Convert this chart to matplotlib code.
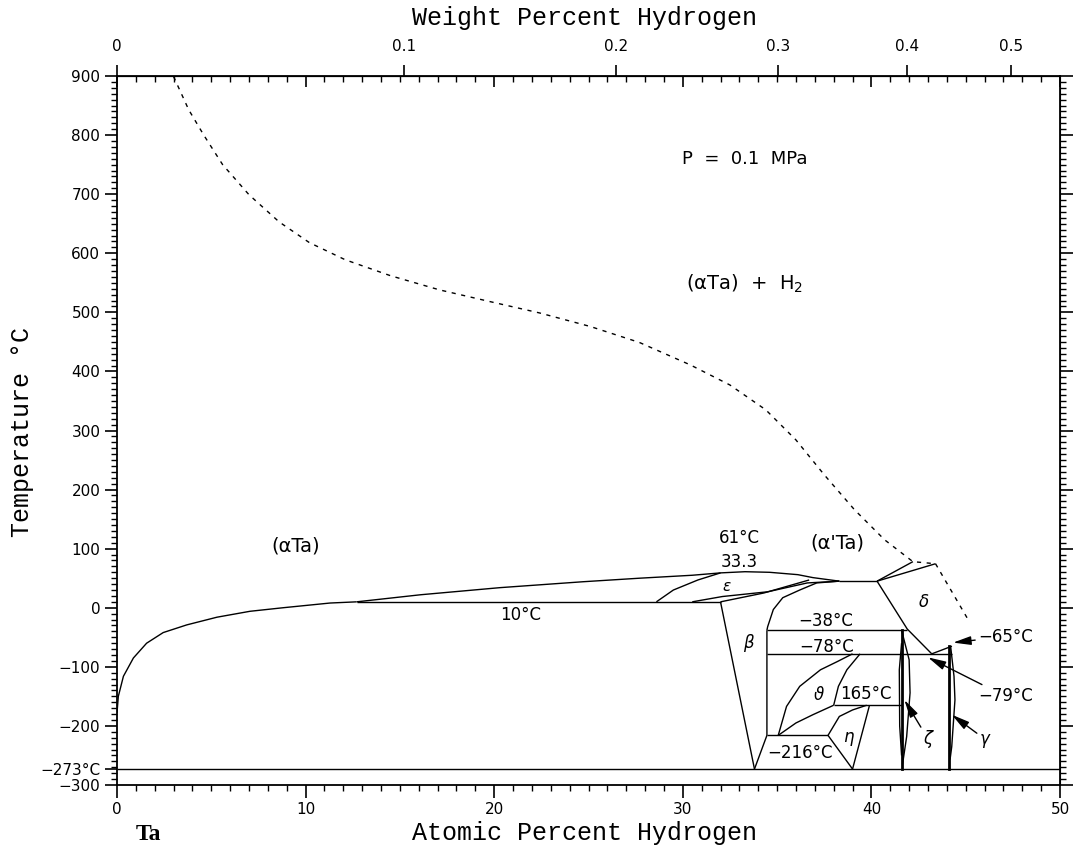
import numpy as np
import matplotlib
matplotlib.use('Agg')
import matplotlib.pyplot as plt
from matplotlib.ticker import MultipleLocator, FixedLocator

# ---------------- data (atomic % H, temperature degC) ----------------
x_ticks = [0, 10, 20, 30, 40, 50]
x_ticklabels = ['0', '10', '20', '30', '40', '50']
y_ticks = [900, 800, 700, 600, 500, 400, 300, 200, 100, 0, -100, -200, -273, -300]
y_ticklabels = ['900', '800', '700', '600', '500', '400', '300', '200', '100', '0',
                '\u2212100', '\u2212200', '\u2212273°C', '\u2212300']
wt_ticks = [0, 0.1, 0.2, 0.3, 0.4, 0.5]
wt_ticklabels = ['0', '0.1', '0.2', '0.3', '0.4', '0.5']

# H2 (0.1 MPa) boundary, dashed
h2_at = [3.0, 3.8, 4.6, 5.6, 7.0, 8.6, 10.2, 12.1, 14.5, 17.1, 19.8, 22.4, 25.1,
         27.7, 30.4, 32.5, 34.4, 36.0, 37.5, 39.1, 40.7, 42.2, 43.4]
h2_T = [899, 843, 800, 750, 699, 653, 618, 589, 562, 538, 518, 499, 476,
        449, 411, 377, 335, 284, 225, 166, 115, 78, 74.5]
delta_right_at = [43.4, 45.2]
delta_right_T = [74.5, -24]

alpha_solvus_at = [0, 0.07, 0.34, 0.87, 1.57, 2.45, 3.7, 5.3, 7.05, 8.8, 11.3, 12.7]
alpha_solvus_T = [-178, -150, -116, -85, -60, -42, -29, -16, -6, 0, 8, 10]

dome_at = [12.7, 16.1, 20.3, 24.7, 27.7, 30.5, 32.0, 33.3, 34.6, 36.1, 36.9, 38.3]
dome_T = [10, 22, 34, 44, 50, 55, 59, 61, 60, 56, 51, 45]

iso10_at = [12.7, 32.0]
iso10_T = [10, 10]

eps_left_at = [28.6, 29.5, 30.8, 32.0]
eps_left_T = [10, 30, 47, 59]
eps_low1_at = [30.5, 32.1, 34.5, 36.6, 38.3]
eps_low1_T = [10, 19, 27, 42, 45]
eps_low2_at = [32.0, 34.3, 36.7]
eps_low2_T = [10, 25, 47]
beta_top_at = [34.46, 34.5, 34.8, 35.3, 36.2, 37.1, 38.3]
beta_top_T = [-38, -32, -3, 17, 30, 42, 45]

iso45_at = [38.3, 40.3]
iso45_T = [45, 45]
alpha_prime_at = [40.3, 42.2]
alpha_prime_T = [45, 78]
delta_top_at = [40.3, 43.4]
delta_top_T = [45, 74.5]
delta_left_at = [40.3, 41.9, 43.2]
delta_left_T = [45, -36, -78]
delta_bottom_at = [43.2, 43.7, 44.27]
delta_bottom_T = [-78, -72, -65]

iso_m38_at = [34.46, 41.9]
iso_m38_T = [-38, -38]
iso_m78_at = [34.46, 44.27]
iso_m78_T = [-78, -78]
iso_m165_at = [38.0, 41.6]
iso_m165_T = [-165, -165]
iso_m216_at = [34.46, 37.7]
iso_m216_T = [-216, -216]
iso_m273_at = [0, 50]
iso_m273_T = [-273, -273]

beta_left_at = [32.0, 33.8]
beta_left_T = [10, -273]
beta_low_at = [33.8, 34.46, 34.46]
beta_low_T = [-273, -216, -38]

theta_left_at = [35.06, 35.5, 36.2, 37.3, 38.2, 39.0]
theta_left_T = [-216, -167, -133, -105, -91, -78]
theta_right_at = [39.4, 38.7, 38.25, 38.0]
theta_right_T = [-78, -105, -133, -165]
theta_bottom_at = [35.06, 36.0, 36.9, 38.0]
theta_bottom_T = [-216, -195, -181, -165]
eta_top_at = [37.7, 38.3, 39.0, 39.75]
eta_top_T = [-216, -184, -173, -165]
eta_right_at = [39.9, 39.0]
eta_right_T = [-165, -273]
eta_left_at = [37.7, 39.0]
eta_left_T = [-216, -273]

zeta_line_at = [41.6, 41.6]
zeta_line_T = [-38, -273]
zeta_right_at = [41.6, 42.0, 42.05, 41.87, 41.65]
zeta_right_T = [-38, -88, -144, -218, -265]
zeta_left_at = [41.6, 41.48, 41.5, 41.6]
zeta_left_T = [-60, -105, -200, -250]

gamma_line_at = [44.13, 44.13]
gamma_line_T = [-65, -273]
gamma_right_at = [44.2, 44.38, 44.43, 44.26, 44.17]
gamma_right_T = [-65, -116, -156, -235, -257]


def at2wt(a):
    a = np.asarray(a, dtype=float)
    return 100 * a * 1.008 / (a * 1.008 + (100 - a) * 180.948)


def wt2at(w):
    w = np.asarray(w, dtype=float)
    n_h = w / 1.008
    n_ta = (100 - w) / 180.948
    return 100 * n_h / (n_h + n_ta)


def ident(v):
    return v


fig = plt.figure(figsize=(10.79, 8.51), dpi=100)
ax = fig.add_axes([117 / 1079, 1 - 785 / 851, (1060 - 117) / 1079, (785 - 76) / 851])
ax.set_xlim(0, 50)
ax.set_ylim(-300, 900)
for s in ax.spines.values():
    s.set_linewidth(1.3)

lw = 1.0
k = 'black'
solid = [
    (alpha_solvus_at, alpha_solvus_T), (dome_at, dome_T), (iso10_at, iso10_T),
    (eps_left_at, eps_left_T), (eps_low1_at, eps_low1_T), (eps_low2_at, eps_low2_T),
    (beta_top_at, beta_top_T), (iso45_at, iso45_T), (alpha_prime_at, alpha_prime_T),
    (delta_top_at, delta_top_T), (delta_left_at, delta_left_T),
    (delta_bottom_at, delta_bottom_T), (iso_m38_at, iso_m38_T), (iso_m78_at, iso_m78_T),
    (iso_m165_at, iso_m165_T), (iso_m216_at, iso_m216_T), (iso_m273_at, iso_m273_T),
    (beta_left_at, beta_left_T), (beta_low_at, beta_low_T),
    (theta_left_at, theta_left_T), (theta_right_at, theta_right_T),
    (theta_bottom_at, theta_bottom_T), (eta_top_at, eta_top_T),
    (eta_right_at, eta_right_T), (eta_left_at, eta_left_T),
    (zeta_right_at, zeta_right_T), (zeta_left_at, zeta_left_T),
    (gamma_right_at, gamma_right_T),
]
for xa, ya in solid:
    ax.plot(xa, ya, color=k, lw=lw, solid_capstyle='butt')
ax.plot(zeta_line_at, zeta_line_T, color=k, lw=2.0)
ax.plot(gamma_line_at, gamma_line_T, color=k, lw=2.0)
ax.plot(h2_at, h2_T, color=k, lw=1.0, linestyle=(0, (3, 4)))
ax.plot(delta_right_at, delta_right_T, color=k, lw=1.0, linestyle=(0, (3, 4)))

# ticks
ax.xaxis.set_major_locator(FixedLocator(x_ticks))
ax.set_xticklabels(x_ticklabels)
ax.xaxis.set_minor_locator(MultipleLocator(1))
ax.yaxis.set_major_locator(FixedLocator(y_ticks))
ax.set_yticklabels(y_ticklabels)
ax.yaxis.set_minor_locator(MultipleLocator(10))
ax.tick_params(which='major', direction='out', length=9, width=1.2, labelsize=11,
               top=False, right=False, pad=3)
ax.tick_params(which='minor', direction='out', length=4, width=1.0, top=False, right=False)

top_in = ax.secondary_xaxis('top', functions=(ident, ident))
top_in.xaxis.set_major_locator(MultipleLocator(10))
top_in.xaxis.set_minor_locator(MultipleLocator(1))
top_in.tick_params(which='major', direction='in', length=8, width=1.2, labeltop=False)
top_in.tick_params(which='minor', direction='in', length=4, width=1.0)
top_in.set_xticklabels([])

top_wt = ax.secondary_xaxis('top', functions=(at2wt, wt2at))
top_wt.set_xticks(wt_ticks)
top_wt.set_xticklabels(wt_ticklabels)
top_wt.xaxis.set_minor_locator(FixedLocator([]))
top_wt.tick_params(which='major', direction='out', length=8, width=1.2, labelsize=11, pad=8)

right = ax.secondary_yaxis('right', functions=(ident, ident))
right.yaxis.set_major_locator(MultipleLocator(100))
right.yaxis.set_minor_locator(MultipleLocator(10))
right.tick_params(which='major', direction='out', length=9, width=1.2, labelright=False)
right.tick_params(which='minor', direction='out', length=4, width=1.0)
right.set_yticklabels([])

# axis titles
mono = 'Liberation Mono'
fig.text(584 / 1079, 1 - 18 / 851, 'Weight Percent Hydrogen', family=mono, fontsize=18,
         ha='center', va='center')
fig.text(584 / 1079, 1 - 833 / 851, 'Atomic Percent Hydrogen', family=mono, fontsize=18,
         ha='center', va='center')
fig.text(22 / 1079, 1 - 432 / 851, 'Temperature °C', family=mono, fontsize=18,
         ha='center', va='center', rotation=90)
fig.text(148 / 1079, 1 - 835 / 851, 'Ta', family='Liberation Serif', fontsize=17,
         fontweight='bold', ha='center', va='center')

fs = 12
def lab(x, y, s, **kw):
    ax.text(x, y, s, fontsize=kw.pop('fontsize', fs), ha='center', va='center', **kw)

lab(33.3, 760, 'P  =  0.1  MPa', fontsize=13)
lab(33.3, 548, '(\u03b1Ta)  +  H$_2$', fontsize=14)
lab(9.5, 105, '(\u03b1Ta)', fontsize=14)
lab(38.2, 110, "(\u03b1'Ta)", fontsize=14)
lab(33.0, 118, '61°C')
lab(33.0, 78, '33.3')
lab(32.3, 36, '\u03b5', style='italic', fontsize=11)
lab(21.4, -12, '10°C')
lab(33.5, -59, '\u03b2', style='italic')
lab(37.6, -22, '\u221238°C')
lab(37.6, -66, '\u221278°C')
lab(42.8, 10, '\u03b4', style='italic')
lab(37.2, -147, '\u03d1', style='italic')
lab(39.7, -146, '165°C')
lab(38.8, -218, '\u03b7', style='italic')
lab(36.2, -245, '\u2212216°C')

arrow = dict(arrowstyle='-|>,head_length=0.9,head_width=0.22', color='black', lw=1.0,
             shrinkA=0, shrinkB=0)
ax.annotate('\u03b6', xy=(41.75, -156), xytext=(43.0, -222), fontsize=fs, style='italic',
            ha='center', va='center', arrowprops=arrow)
ax.annotate('\u03b3', xy=(44.26, -181), xytext=(46.0, -222), fontsize=fs, style='italic',
            ha='center', va='center', arrowprops=arrow)
ax.annotate('\u221279°C', xy=(43.0, -84), xytext=(47.1, -150), fontsize=fs,
            ha='center', va='center', arrowprops=arrow)
ax.annotate('\u221265°C', xy=(44.33, -59), xytext=(47.1, -49), fontsize=fs,
            ha='center', va='center', arrowprops=arrow)

fig.savefig('out.png', dpi=100)
